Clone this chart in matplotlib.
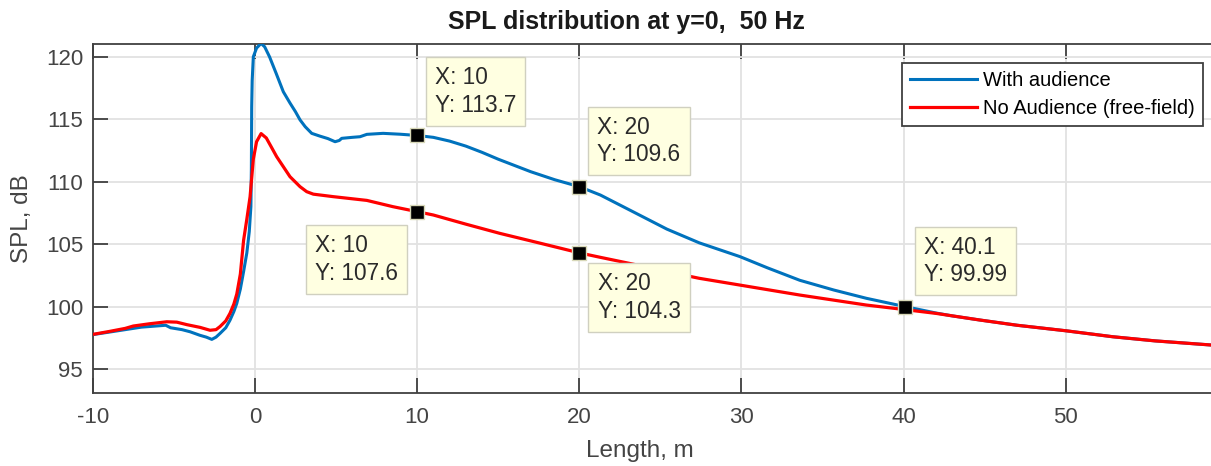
import matplotlib
matplotlib.use('Agg')
import matplotlib.pyplot as plt

plt.rcParams['font.family'] = ['Liberation Sans', 'DejaVu Sans']
plt.rcParams['axes.unicode_minus'] = False

# curve with audience (blue)
aud_x = [-10, -9, -8, -7, -6, -5.5, -5.2, -4.5, -4.0, -3.4, -3.0, -2.66, -2.4, -2.15,
         -1.8, -1.54, -1.3, -1.12, -0.9, -0.7, -0.5, -0.35, -0.25, -0.22, -0.2, -0.17,
         -0.1, 0.1, 0.38, 0.6, 0.9, 1.3, 1.75, 2.16, 2.5, 2.78, 3.1, 3.5, 4.0, 4.5,
         4.94, 5.2, 5.35, 6.0, 6.48, 6.9, 7.9, 8.95, 10, 11, 12, 13, 14, 15, 16, 17,
         18.5, 20, 21.3, 23.3, 25.4, 27.4, 29.9, 31.6, 33.6, 35.7, 37.7, 40.1, 41, 42,
         43, 44.7, 47, 50, 52.9, 55.5, 58.95]
aud_y = [97.75, 97.95, 98.15, 98.35, 98.45, 98.5, 98.3, 98.15, 97.98, 97.7, 97.55, 97.37,
         97.55, 97.85, 98.3, 98.9, 99.6, 100.25, 101.4, 102.8, 104.3, 106.0, 108.0, 111.0,
         116.0, 118.1, 120.0, 120.7, 121.07, 120.8, 120.0, 118.7, 117.2, 116.3, 115.6,
         114.95, 114.4, 113.87, 113.65, 113.45, 113.2, 113.3, 113.47, 113.55, 113.6,
         113.79, 113.87, 113.8, 113.7, 113.55, 113.25, 112.85, 112.35, 111.8, 111.3,
         110.8, 110.15, 109.6, 108.93, 107.6, 106.2, 105.1, 104.0, 103.1, 102.1, 101.32,
         100.66, 99.99, 99.75, 99.48, 99.25, 98.92, 98.5, 98.06, 97.58, 97.25, 96.92]

# curve without audience (red)
free_x = [-10, -9, -8, -7.5, -6.5, -5.44, -4.82, -4.2, -3.38, -2.77, -2.4, -2.15, -1.8,
          -1.54, -1.3, -1.12, -0.9, -0.7, -0.5, -0.3, -0.1, 0.1, 0.38, 0.7, 1.0, 1.34,
          1.75, 2.16, 2.78, 3.19, 3.6, 4.83, 6.9, 8.5, 10, 11, 13, 15.1, 17.5, 20, 21.3,
          23.3, 25.4, 27.4, 29.9, 33.6, 37.7, 40.1, 42, 44.7, 47, 50, 52.9, 55.5, 58.95]
free_y = [97.77, 98.0, 98.25, 98.44, 98.62, 98.78, 98.75, 98.55, 98.33, 98.1, 98.15, 98.4,
          98.85, 99.45, 100.2, 101.0, 102.6, 105.3, 107.0, 108.8, 111.8, 113.2, 113.85,
          113.5, 112.8, 112.0, 111.2, 110.4, 109.6, 109.2, 109.0, 108.8, 108.5, 108.0,
          107.6, 107.33, 106.6, 105.86, 105.1, 104.3, 103.94, 103.4, 102.8, 102.26, 101.72,
          100.92, 100.12, 99.75, 99.45, 98.92, 98.5, 98.06, 97.58, 97.25, 96.92]

# data tips
tip_x = [10, 20, 10, 20, 40.1]
tip_y = [113.7, 109.6, 107.6, 104.3, 99.99]
tip_lbl = ['10', '20', '10', '20', '40.1']
tip_val = ['113.7', '109.6', '107.6', '104.3', '99.99']
tip_off = [(42, 31.6), (43, 33), (-43.7, -34.3), (43, -32.2), (43.3, 33)]

fig = plt.figure(figsize=(12.11, 4.66), dpi=100)
ax = fig.add_axes([0.0766, 0.1573, 0.9234, 0.7476])

ax.plot(aud_x, aud_y, color='#0072BD', lw=2.2, label='With audience', zorder=3)
ax.plot(free_x, free_y, color='#FF0000', lw=2.3, label='No Audience (free-field)', zorder=3)

for i in range(len(tip_x)):
    ax.plot(tip_x[i], tip_y[i], 's', ms=10.5, color='black', mec='#d8d8b8', mew=1, zorder=5)
    ax.annotate('X: ' + tip_lbl[i] + '\nY: ' + tip_val[i], xy=(tip_x[i], tip_y[i]),
                xytext=tip_off[i], textcoords='offset points', ha='center', va='center',
                multialignment='left', fontsize=16.3, color='#2a2a2a', linespacing=1.25,
                zorder=6,
                bbox=dict(boxstyle='square,pad=0.4', fc='#FFFFE1', ec='#d0d0c0', lw=1))

ax.set_xlim(-10, 58.95)
ax.set_ylim(93.1, 121.0)
ax.set_xticks([-10, 0, 10, 20, 30, 40, 50])
ax.set_yticks([95, 100, 105, 110, 115, 120])
ax.grid(True, color='#e2e2e2', lw=1.3)
ax.set_axisbelow(True)

ax.tick_params(direction='in', length=11, width=1.3, color='#404040', labelsize=16,
               labelcolor='#444444', top=True, right=False)
ax.tick_params(axis='x', pad=10)
ax.tick_params(axis='y', pad=7)
for s in ['left', 'bottom', 'top']:
    ax.spines[s].set_color('#404040')
    ax.spines[s].set_linewidth(1.3)
ax.spines['right'].set_visible(False)

ax.set_title('SPL distribution at y=0,  50 Hz', fontsize=18, fontweight='bold',
             color='#1a1a1a', x=0.477, y=1.043, pad=0)
ax.set_xlabel('Length, m', fontsize=17.5, color='#444444')
ax.xaxis.set_label_coords(0.489, -0.135)
ax.set_ylabel('SPL, dB', fontsize=17.5, color='#444444')
ax.yaxis.set_label_coords(-0.0534, 0.5)

leg = ax.legend(loc='upper right', bbox_to_anchor=(0.9926, 0.9472), borderaxespad=0,
                fontsize=14.5, fancybox=False, framealpha=1, edgecolor='#404040',
                handlelength=3.3, handletextpad=0.3, borderpad=0.4, labelspacing=0.45)
leg.get_frame().set_linewidth(1.3)

fig.savefig('out.png', dpi=100)
